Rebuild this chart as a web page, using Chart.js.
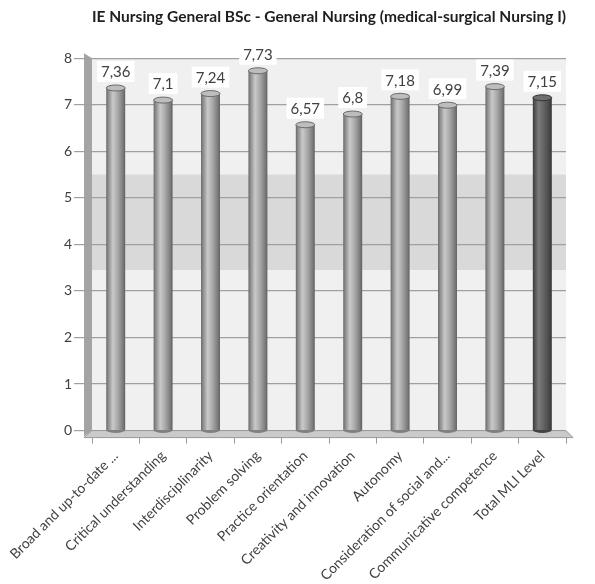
<!DOCTYPE html>
<html>
<head>
<meta charset="utf-8">
<script src="https://cdn.jsdelivr.net/npm/chart.js@4.4.1/dist/chart.umd.min.js"></script>
<style>
  html, body { margin: 0; padding: 0; background: #fff; }
</style>
</head>
<body>
<canvas id="mliChart" width="595" height="584"></canvas>
<script>
// competence areas and mean scores
const categories = [
  'Broad and up-to-date ...',
  'Critical understanding',
  'Interdisciplinarity',
  'Problem solving',
  'Practice orientation',
  'Creativity and innovation',
  'Autonomy',
  'Consideration of social and...',
  'Communicative competence',
  'Total MLI Level'
];
const scores = [7.36, 7.1, 7.24, 7.73, 6.57, 6.8, 7.18, 6.99, 7.39, 7.15];
const yRange = [0, 8];
const band = [3.45, 5.5];

const FONT = 'Lato, "Open Sans", sans-serif';
const TEXT = '#404040';

// horizontal gradient so each bar reads as a cylinder
function cylinderFill(c) {
  const chart = c.chart;
  const xs = chart.scales.x;
  if (!xs || !chart.chartArea) return '#999';
  const cx = xs.getPixelForValue(c.dataIndex);
  const w = xs.width / categories.length * 0.4;
  const g = chart.ctx.createLinearGradient(cx - w / 2, 0, cx + w / 2, 0);
  if (c.dataIndex === categories.length - 1) {
    g.addColorStop(0, '#3c3c3c');
    g.addColorStop(0.3, '#7a7a7a');
    g.addColorStop(0.5, '#6a6a6a');
    g.addColorStop(0.85, '#4a4a4a');
    g.addColorStop(1, '#333');
  } else {
    g.addColorStop(0, '#6a6a6a');
    g.addColorStop(0.12, '#8e8e8e');
    g.addColorStop(0.35, '#c9c9c9');
    g.addColorStop(0.6, '#aaaaaa');
    g.addColorStop(0.88, '#7c7c7c');
    g.addColorStop(1, '#606060');
  }
  return g;
}

const wall3d = {
  id: 'wall3d',
  beforeDraw(chart) {
    const { ctx, chartArea: a, scales: { y } } = chart;
    ctx.save();
    // back wall
    ctx.fillStyle = '#f0f0f0';
    ctx.fillRect(a.left, a.top, a.right - a.left, a.bottom - a.top);
    ctx.fillStyle = '#d9d9d9';
    const bTop = y.getPixelForValue(band[1]);
    const bBot = y.getPixelForValue(band[0]);
    ctx.fillRect(a.left, bTop, a.right - a.left, bBot - bTop);
    // side wall
    ctx.fillStyle = '#a4a4a4';
    ctx.beginPath();
    ctx.moveTo(a.left - 8, a.top - 5);
    ctx.lineTo(a.left, a.top);
    ctx.lineTo(a.left, a.bottom);
    ctx.lineTo(a.left - 8, a.bottom + 6);
    ctx.closePath();
    ctx.fill();
    ctx.restore();
  },
  beforeDatasetsDraw(chart) {
    const { ctx, chartArea: a } = chart;
    // floor
    ctx.save();
    ctx.fillStyle = '#cacaca';
    ctx.strokeStyle = '#9a9a9a';
    ctx.lineWidth = 1;
    ctx.beginPath();
    ctx.moveTo(a.left, a.bottom);
    ctx.lineTo(a.right, a.bottom);
    ctx.lineTo(a.right + 7, a.bottom + 7);
    ctx.lineTo(a.left - 8, a.bottom + 7);
    ctx.closePath();
    ctx.fill();
    ctx.stroke();
    ctx.restore();
  },
  afterDatasetsDraw(chart) {
    const { ctx } = chart;
    const meta = chart.getDatasetMeta(0);
    ctx.save();
    meta.data.forEach((bar, i) => {
      const r = bar.width / 2;
      const last = i === categories.length - 1;
      // bottom rim
      ctx.beginPath();
      ctx.ellipse(bar.x, bar.base, r, 3, 0, 0, Math.PI);
      ctx.fillStyle = last ? '#444' : '#808080';
      ctx.fill();
      // top cap
      ctx.beginPath();
      ctx.ellipse(bar.x, bar.y, r, 3, 0, 0, Math.PI * 2);
      ctx.fillStyle = last ? '#6e6e6e' : '#bdbdbd';
      ctx.fill();
      ctx.strokeStyle = last ? '#333' : '#6a6a6a';
      ctx.lineWidth = 1;
      ctx.stroke();

      // value label in a white box
      const txt = String(scores[i]).replace('.', ',');
      ctx.font = '15px ' + FONT;
      const tw = ctx.measureText(txt).width;
      const bh = 21;
      const by = bar.y - 6 - bh;
      ctx.fillStyle = '#fff';
      ctx.fillRect(bar.x - tw / 2 - 4, by, tw + 8, bh);
      ctx.fillStyle = TEXT;
      ctx.textAlign = 'center';
      ctx.textBaseline = 'middle';
      ctx.fillText(txt, bar.x, by + bh / 2 + 1);
    });
    ctx.restore();
  }
};

new Chart(document.getElementById('mliChart'), {
  type: 'bar',
  data: {
    labels: categories,
    datasets: [{
      data: scores,
      backgroundColor: cylinderFill,
      categoryPercentage: 1,
      barPercentage: 0.4,
      borderWidth: 0
    }]
  },
  options: {
    responsive: false,
    animation: false,
    devicePixelRatio: 1,
    layout: { padding: { top: 0, right: 29, bottom: 0, left: 0 } },
    plugins: {
      legend: { display: false },
      tooltip: { enabled: false },
      title: {
        display: true,
        text: 'IE Nursing General BSc - General Nursing (medical-surgical Nursing I)',
        fullSize: false,
        color: '#1e1e1e',
        font: { family: FONT, size: 16, weight: 'bold' },
        padding: { top: 7, bottom: 32 }
      }
    },
    scales: {
      y: {
        min: yRange[0],
        max: yRange[1],
        ticks: { stepSize: 1, color: TEXT, font: { family: FONT, size: 14 }, padding: 2 },
        grid: { color: '#a0a0a0', lineWidth: 1.2, tickLength: 18 },
        border: { display: false },
        afterFit: s => { s.width = 92; }
      },
      x: {
        ticks: {
          minRotation: 45, maxRotation: 45, autoSkip: false,
          color: TEXT, font: { family: FONT, size: 14 }, padding: 4
        },
        grid: { drawOnChartArea: false, tickLength: 13, color: '#9a9a9a', offset: true },
        border: { display: false },
        afterFit: s => { s.paddingLeft = 0; s.paddingRight = 0; s.height -= 4; }
      }
    }
  },
  plugins: [wall3d]
});
</script>
</body>
</html>
